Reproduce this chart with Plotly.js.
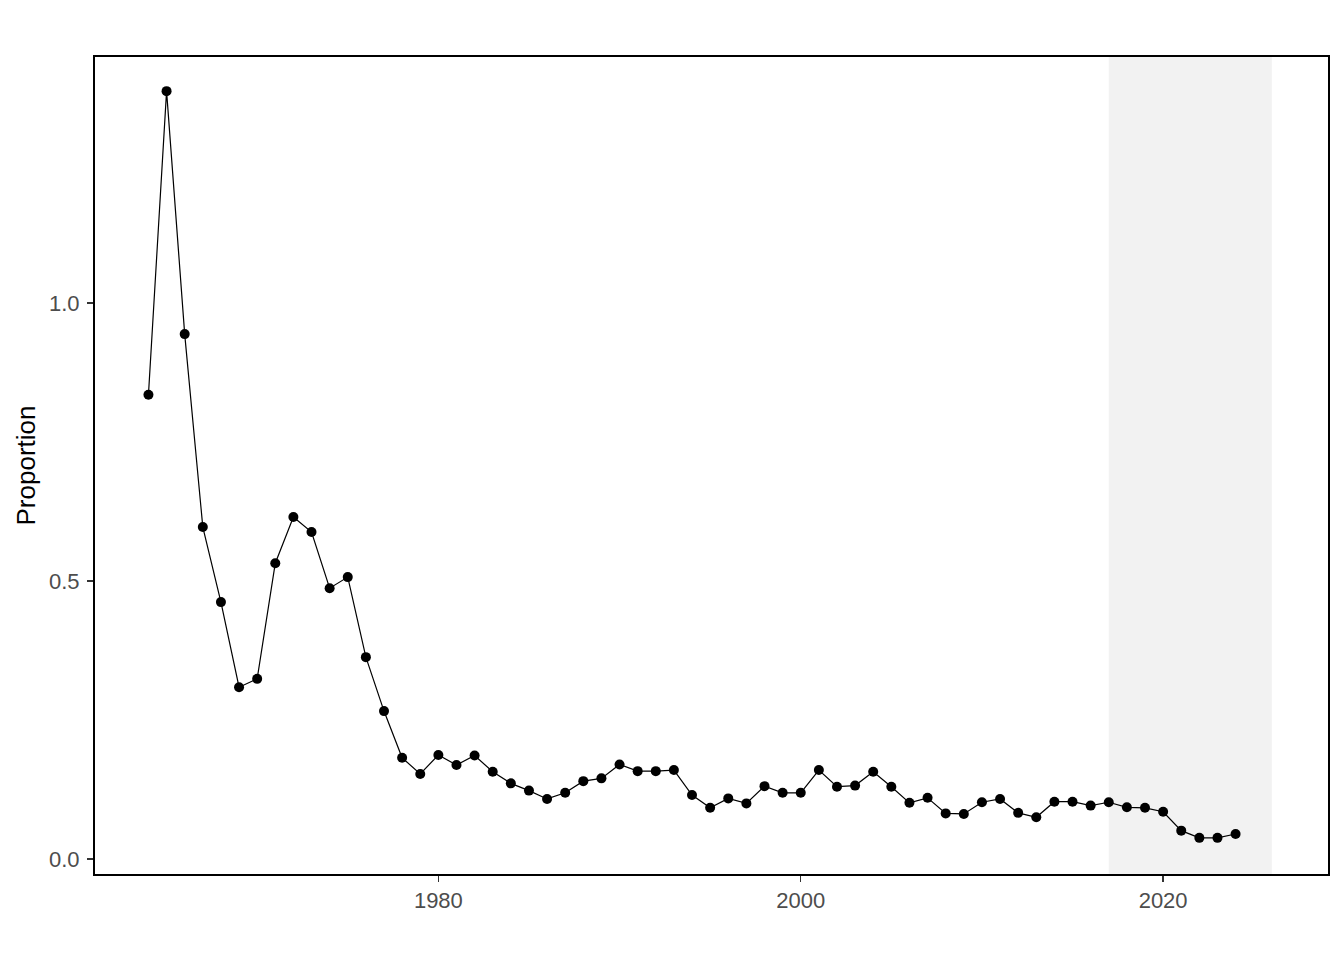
<!DOCTYPE html>
<html>
<head>
<meta charset="utf-8">
<script src="https://cdn.plot.ly/plotly-3.0.1.min.js"></script>
<style>html,body{margin:0;padding:0;background:#fff;}#chart{width:1344px;height:960px;}</style>
</head>
<body>
<div id="chart"></div>
<script>
const years = [1964,1965,1966,1967,1968,1969,1970,1971,1972,1973,1974,1975,1976,1977,1978,1979,
  1980,1981,1982,1983,1984,1985,1986,1987,1988,1989,1990,1991,1992,1993,1994,1995,1996,1997,1998,1999,
  2000,2001,2002,2003,2004,2005,2006,2007,2008,2009,2010,2011,2012,2013,2014,2015,2016,2017,2018,2019,
  2020,2021,2022,2023,2024];
const proportion = [0.835,1.381,0.944,0.597,0.462,0.309,0.324,0.532,0.615,0.588,0.487,0.507,0.363,0.266,0.182,0.153,
  0.187,0.169,0.186,0.157,0.136,0.123,0.108,0.119,0.140,0.145,0.170,0.158,0.158,0.160,0.115,0.092,0.109,0.100,0.131,0.119,
  0.119,0.160,0.130,0.132,0.157,0.130,0.101,0.110,0.082,0.081,0.102,0.108,0.083,0.075,0.103,0.103,0.096,0.102,0.093,0.092,
  0.085,0.051,0.038,0.038,0.045];
const shadeStart = 2017;
const shadeEnd = 2026;
const xTicks = [1980, 2000, 2020];
const yTicks = [0.0, 0.5, 1.0];
const yTickLabels = ["0.0", "0.5", "1.0"];

const trace = {
  x: years, y: proportion, type: 'scatter', mode: 'lines+markers',
  line: {color: '#000', width: 1.2},
  marker: {color: '#000', size: 10},
  hoverinfo: 'x+y'
};

const axisCommon = {
  showgrid: false, zeroline: false,
  showline: true, mirror: true, linecolor: '#000', linewidth: 2,
  ticks: 'outside', ticklen: 6, tickwidth: 1.5, tickcolor: '#333',
  tickfont: {family: 'Liberation Sans, Arial, sans-serif', size: 22, color: '#4d4d4d'}
};

const layout = {
  width: 1344, height: 960,
  margin: {l: 95, r: 16, t: 57, b: 86},
  paper_bgcolor: '#fff', plot_bgcolor: '#fff',
  showlegend: false,
  xaxis: Object.assign({}, axisCommon, {
    range: [1961.05, 2029.10], tickvals: xTicks, ticktext: xTicks.map(String)
  }),
  yaxis: Object.assign({}, axisCommon, {
    range: [-0.027, 1.4424], tickvals: yTicks, ticktext: yTickLabels, ticklabelstandoff: 3,
    title: {text: 'Proportion', font: {family: 'Liberation Sans, Arial, sans-serif', size: 26, color: '#000'}, standoff: 6}
  }),
  shapes: [{
    type: 'rect', xref: 'x', yref: 'paper', x0: shadeStart, x1: shadeEnd, y0: 0, y1: 1,
    fillcolor: '#f2f2f2', line: {width: 0}, layer: 'below'
  }]
};

Plotly.newPlot('chart', [trace], layout, {displayModeBar: false, staticPlot: true});
</script>
</body>
</html>
